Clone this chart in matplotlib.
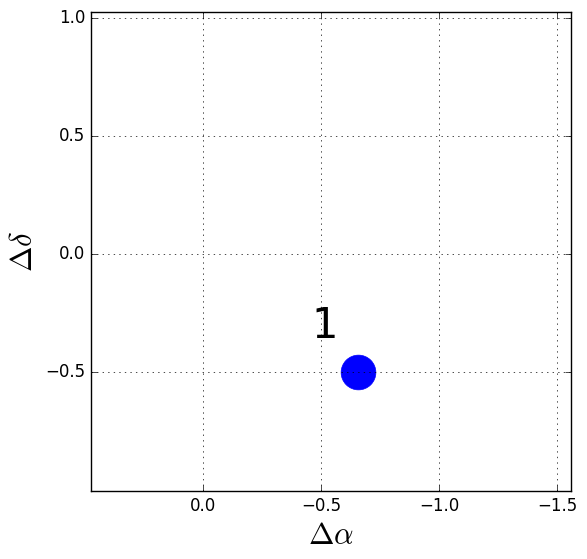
import matplotlib
matplotlib.use("Agg")
import matplotlib.pyplot as plt

ra_off = [-0.657]
dec_off = [-0.5]
labels = ["1"]
label_x = [-0.517]
label_y = [-0.305]

plt.style.use("classic")
plt.rcParams["mathtext.fontset"] = "cm"

fig = plt.figure(figsize=(5.87, 5.59), dpi=100)
ax = fig.add_axes([91/587, 1 - 491/559, 480/587, 479/559])

ax.plot(ra_off, dec_off, "o", color="blue", markeredgecolor="blue", markersize=25)
for lx, ly, t in zip(label_x, label_y, labels):
    ax.text(lx, ly, t, fontsize=30, ha="center", va="center")

ax.set_xlim(0.4746, -1.559)
ax.set_ylim(-1.004, 1.025)
ax.set_xticks([0.0, -0.5, -1.0, -1.5])
ax.set_yticks([-0.5, 0.0, 0.5, 1.0])
ax.tick_params(labelsize=12)
ax.grid(True)
ax.set_xlabel(r"$\Delta\alpha$", fontsize=22)
ax.set_ylabel(r"$\Delta\delta$", fontsize=22)

fig.savefig("out.png", dpi=100)
